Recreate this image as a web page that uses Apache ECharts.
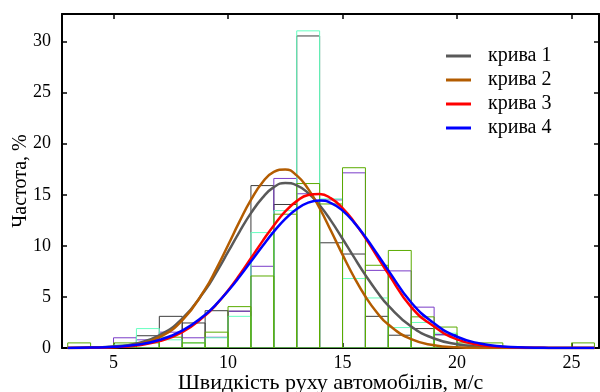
<!DOCTYPE html>
<html lang="uk">
<head>
<meta charset="UTF-8">
<script src="https://cdn.jsdelivr.net/npm/echarts@6.0.0/dist/echarts.min.js"></script>
<title>Швидкість руху автомобілів</title>
</head>
<body style="margin: 0">
<div id="container" style="width: 600px; height: 392px"></div>
<script>
    // гістограми: початок інтервалу (ширина 1 м/с) та частоти, %
    var bins = [3, 4, 5, 6, 7, 8, 9, 10, 11, 12, 13, 14, 15, 16, 17, 18, 19, 20, 21, 22, 23, 24, 25];
    var histDark   = [0, 0, 0, 1.2, 3.1, 2.45, 3.65, 3.6, 15.9, 14.05, 30.55, 10.3, 9.2, 3.1, 1.25, 1.9, 1.3, 0, 0, 0, 0, 0, 0];
    var histPurple = [0, 0, 1.0, 0.8, 1.55, 1.0, 1.05, 3.6, 8.0, 16.6, 15.1, 14.5, 17.15, 7.6, 7.55, 4.0, 1.3, 0.3, 0, 0, 0, 0, 0];
    var histAqua   = [0, 0, 0.3, 1.9, 0.8, 0.5, 1.0, 3.1, 11.3, 13.45, 31.05, 14.6, 6.8, 4.9, 2.0, 2.5, 1.45, 0.3, 0, 0, 0, 0, 0];
    var histGreen  = [0.5, 0, 0.5, 0.5, 1.06, 0.5, 1.55, 4.05, 7.05, 13.1, 16.1, 14.1, 17.65, 8.1, 9.55, 3.05, 2.05, 0.5, 0.5, 0, 0, 0, 0.5];

    // криві
    var curveX = [3, 4, 5, 6, 7, 8, 9, 9.5, 10, 10.5, 11, 11.5, 12, 12.5, 13, 13.5, 14, 14.5, 15, 15.5, 16, 16.5, 17, 18, 19, 20, 21, 22, 23, 24, 25, 26];
    var curve1 = [0, 0.04, 0.14, 0.45, 1.24, 2.88, 5.65, 7.44, 9.4, 11.38, 13.2, 14.7, 15.75, 16.15, 15.93, 15.18, 13.98, 12.45, 10.7, 8.89, 7.14, 5.54, 4.15, 2.1, 0.93, 0.36, 0.12, 0.04, 0.01, 0, 0, 0];
    var curve2 = [0, 0.02, 0.09, 0.34, 1.06, 2.71, 5.76, 7.8, 10.06, 12.37, 14.5, 16.2, 17.24, 17.48, 16.9, 15.58, 13.68, 11.45, 9.14, 6.95, 5.04, 3.48, 2.29, 0.86, 0.27, 0.07, 0.01, 0, 0, 0, 0, 0];
    var curve3 = [0, 0.02, 0.08, 0.25, 0.67, 1.56, 3.17, 4.29, 5.63, 7.15, 8.78, 10.44, 12.0, 13.37, 14.38, 14.97, 15.08, 14.65, 13.7, 12.37, 10.76, 9.0, 7.27, 4.0, 2.1, 0.85, 0.3, 0.11, 0.03, 0.01, 0, 0];
    var curve4 = [0, 0.04, 0.12, 0.32, 0.78, 1.7, 3.26, 4.33, 5.58, 6.97, 8.46, 9.96, 11.39, 12.64, 13.61, 14.24, 14.45, 14.19, 13.45, 12.3, 10.86, 9.25, 7.6, 4.45, 2.42, 1.1, 0.44, 0.15, 0.05, 0.01, 0, 0];

    var xTicks = [5, 10, 15, 20, 25];
    var yTicks = [0, 5, 10, 15, 20, 25, 30];

    var font = '"Liberation Serif", "Times New Roman", serif';

    function pairs(xs, ys) {
        return xs.map(function (x, i) { return [x, ys[i]]; });
    }

    function histSeries(name, values, color) {
        return {
            name: name,
            type: 'custom',
            silent: true,
            clip: true,
            z: 2,
            data: pairs(bins, values),
            renderItem: function (params, api) {
                var h = api.value(1);
                if (!h) return;
                var p0 = api.coord([api.value(0), 0]);
                var p1 = api.coord([api.value(0) + 1, h]);
                return {
                    type: 'rect',
                    shape: { x: p0[0], y: p1[1], width: p1[0] - p0[0], height: p0[1] - p1[1] },
                    style: { fill: 'none', stroke: color, lineWidth: 1 }
                };
            }
        };
    }

    function curveSeries(name, values, color) {
        return {
            name: name,
            type: 'line',
            data: pairs(curveX, values),
            smooth: true,
            showSymbol: false,
            silent: true,
            z: 5,
            lineStyle: { color: color, width: 2.5 },
            itemStyle: { color: color }
        };
    }

    function frameAxis(pos, ticks, extra) {
        var a = {
            type: 'value',
            position: pos,
            axisLine: { show: true, onZero: false, lineStyle: { color: '#000', width: 2 } },
            axisTick: { inside: true, length: 5, customValues: ticks, lineStyle: { color: '#000', width: 1.5 } },
            axisLabel: { show: false },
            splitLine: { show: false }
        };
        for (var k in extra) a[k] = extra[k];
        return a;
    }

    var option = {
        animation: false,
        grid: { left: 62, right: 1, top: 14, bottom: 44, outerBoundsMode: 'none' },
        legend: {
            orient: 'vertical',
            left: 441,
            top: 41,
            icon: 'rect',
            itemWidth: 25,
            itemHeight: 3,
            itemGap: 4,
            textStyle: { fontFamily: font, fontSize: 20, color: '#000', lineHeight: 20, padding: [0, 0, 0, 12] },
            data: ['крива 1', 'крива 2', 'крива 3', 'крива 4']
        },
        xAxis: [
            frameAxis('bottom', xTicks, {
                min: 2.75, max: 26.2,
                axisLabel: { customValues: xTicks, fontFamily: font, fontSize: 18, color: '#000', margin: 6 },
                name: 'Швидкість руху автомобілів, м/с',
                nameLocation: 'middle',
                nameGap: 24,
                nameMoveOverlap: false,
                nameTextStyle: { fontFamily: font, fontSize: 22, color: '#000' }
            }),
            frameAxis('top', xTicks, { min: 2.75, max: 26.2 })
        ],
        yAxis: [
            frameAxis('left', yTicks, {
                min: 0, max: 32.7,
                axisLabel: { customValues: yTicks, fontFamily: font, fontSize: 18, color: '#000', margin: 11 },
                name: 'Частота, %',
                nameLocation: 'middle',
                nameGap: 31,
                nameMoveOverlap: false,
                nameTextStyle: { fontFamily: font, fontSize: 20, color: '#000' }
            }),
            frameAxis('right', yTicks, { min: 0, max: 32.7 })
        ],
        series: [
            histSeries('h1', histDark, '#3c3c3c'),
            histSeries('h2', histPurple, '#7a3cc8'),
            histSeries('h3', histAqua, '#66ffc0'),
            histSeries('h4', histGreen, '#5aab00'),
            curveSeries('крива 1', curve1, '#595959'),
            curveSeries('крива 2', curve2, '#b35c00'),
            curveSeries('крива 3', curve3, '#ff0000'),
            curveSeries('крива 4', curve4, '#0000ff')
        ]
    };

    var myChart = echarts.init(document.getElementById('container'));
    myChart.setOption(option);
</script>
</body>
</html>
